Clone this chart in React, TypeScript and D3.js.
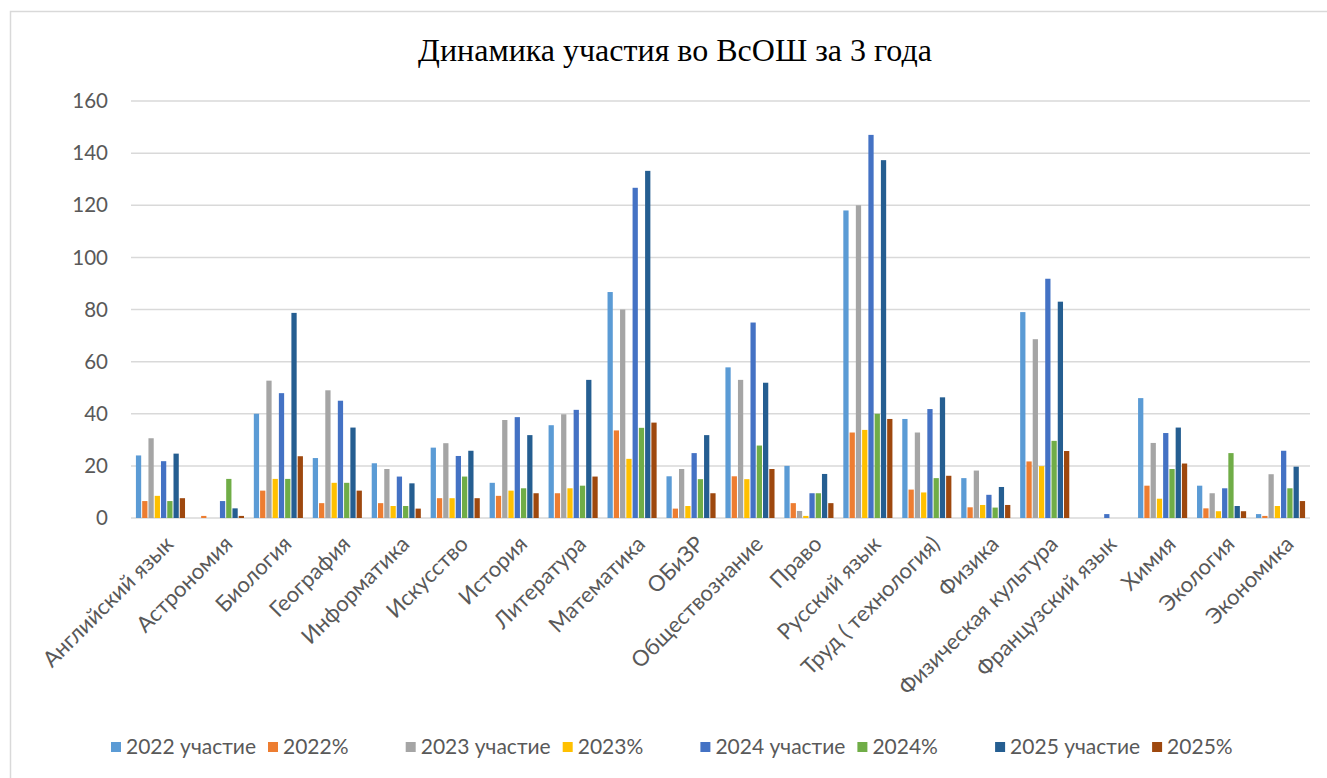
import { useEffect, useRef } from "react";
import { select, scaleBand, scaleLinear, range } from "d3";

const categories = [
  "Английский язык",
  "Астрономия",
  "Биология",
  "География",
  "Информатика",
  "Искусство",
  "История",
  "Литература",
  "Математика",
  "ОБиЗР",
  "Обществознание",
  "Право",
  "Русский язык",
  "Труд ( технология)",
  "Физика",
  "Физическая культура",
  "Французский язык",
  "Химия",
  "Экология",
  "Экономика",
];

const seriesNames = [
  "2022 участие",
  "2022%",
  "2023 участие",
  "2023%",
  "2024 участие",
  "2024%",
  "2025 участие",
  "2025%",
];

const seriesColors = [
  "#5B9BD5",
  "#ED7D31",
  "#A5A5A5",
  "#FFC000",
  "#4472C4",
  "#70AD47",
  "#255E91",
  "#9E480E",
];

const part2022 = [24, 0, 40, 23, 21, 27, 13.5, 35.6, 86.7, 16, 57.8, 20, 118, 38, 15.3, 79, 0, 46, 12.4, 1.5];
const pct2022 = [6.5, 0.8, 10.5, 5.7, 5.7, 7.6, 8.5, 9.5, 33.6, 3.6, 16, 5.7, 32.8, 10.9, 4.1, 21.7, 0, 12.4, 3.7, 0.8];
const part2023 = [30.6, 0, 52.7, 49, 18.8, 28.7, 37.6, 39.8, 80, 18.8, 53, 2.7, 120, 32.8, 18.2, 68.6, 0, 28.8, 9.5, 16.8];
const pct2023 = [8.5, 0, 15, 13.5, 4.6, 7.6, 10.5, 11.4, 22.7, 4.6, 14.9, 0.8, 33.8, 9.8, 5, 19.9, 0, 7.4, 2.6, 4.6];
const part2024 = [21.8, 6.5, 47.9, 45, 15.9, 23.8, 38.7, 41.5, 126.7, 24.9, 75, 9.5, 147, 41.8, 8.9, 91.8, 1.5, 32.6, 11.4, 25.8];
const pct2024 = [6.5, 15, 15, 13.5, 4.6, 15.9, 11.4, 12.4, 34.6, 14.9, 27.8, 9.5, 40, 15.3, 4, 29.6, 0, 18.8, 24.9, 11.4];
const part2025 = [24.7, 3.7, 78.7, 34.7, 13.3, 25.8, 31.8, 53, 133.2, 31.8, 51.9, 16.9, 137.3, 46.3, 11.9, 83, 0, 34.7, 4.6, 19.7];
const pct2025 = [7.6, 0.8, 23.7, 10.5, 3.6, 7.6, 9.5, 15.9, 36.6, 9.5, 18.8, 5.7, 38, 16.2, 5, 25.7, 0, 20.9, 2.6, 6.5];

const seriesValues = [part2022, pct2022, part2023, pct2023, part2024, pct2024, part2025, pct2025];

const yTicks = [0, 20, 40, 60, 80, 100, 120, 140, 160];

const W = 1327;
const H = 778;
const FONT = "Lato, 'Open Sans', sans-serif";
const TEXT_GRAY = "#595959";

export default function App() {
  const svgRef = useRef<SVGSVGElement | null>(null);

  useEffect(() => {
    if (!svgRef.current) return;
    const svg = select(svgRef.current);
    svg.selectAll("*").remove();

    const left = 131;
    const right = 1310;
    const top = 101;
    const bottom = 518;

    const x = scaleBand<string>().domain(categories).range([left, right]).paddingInner(0.15).paddingOuter(0.075);
    const xs = scaleBand<number>().domain(range(seriesNames.length)).range([0, x.bandwidth()]);
    const y = scaleLinear().domain([0, 160]).range([bottom, top]);

    // background + border
    svg.append("rect").attr("x", 0).attr("y", 0).attr("width", W).attr("height", H).attr("fill", "#fff");
    svg
      .append("rect")
      .attr("x", 10.5)
      .attr("y", 11.5)
      .attr("width", W + 20)
      .attr("height", H + 20)
      .attr("fill", "none")
      .attr("stroke", "#d9d9d9")
      .attr("stroke-width", 1.5);

    // title
    svg
      .append("text")
      .attr("x", 675)
      .attr("y", 61)
      .attr("text-anchor", "middle")
      .attr("font-family", "'Liberation Serif', 'Times New Roman', serif")
      .attr("font-size", 32)
      .attr("fill", "#000")
      .text("Динамика участия во ВсОШ за 3 года");

    // grid
    const grid = svg.append("g").attr("class", "grid");
    grid
      .selectAll("line")
      .data(yTicks)
      .enter()
      .append("line")
      .attr("x1", left)
      .attr("x2", right)
      .attr("y1", (d) => y(d))
      .attr("y2", (d) => y(d))
      .attr("stroke", "#d9d9d9")
      .attr("stroke-width", 1.5);

    // y labels
    svg
      .append("g")
      .selectAll("text")
      .data(yTicks)
      .enter()
      .append("text")
      .attr("x", 108)
      .attr("y", (d) => y(d))
      .attr("dy", "0.35em")
      .attr("text-anchor", "end")
      .attr("font-family", FONT)
      .attr("font-size", 20.5)
      .attr("fill", TEXT_GRAY)
      .text((d) => String(d));

    // bars
    const groups = svg
      .append("g")
      .selectAll("g")
      .data(categories)
      .enter()
      .append("g")
      .attr("transform", (d) => `translate(${x(d)},0)`);

    groups
      .selectAll("rect")
      .data((_, ci) => seriesValues.map((vals, si) => ({ si, v: vals[ci] })))
      .enter()
      .filter((d) => d.v > 0)
      .append("rect")
      .attr("x", (d) => (xs(d.si) ?? 0) + 0.5)
      .attr("width", xs.bandwidth() - 1)
      .attr("y", (d) => y(d.v))
      .attr("height", (d) => y(0) - y(d.v))
      .attr("fill", (d) => seriesColors[d.si]);

    // category labels
    svg
      .append("g")
      .selectAll("text")
      .data(categories)
      .enter()
      .append("text")
      .attr("transform", (d) => `translate(${(x(d) ?? 0) + x.bandwidth() / 2 + 9},${bottom + 22}) rotate(-45)`)
      .attr("text-anchor", "end")
      .attr("dy", "0.35em")
      .attr("font-family", FONT)
      .attr("font-size", 22)
      .attr("fill", TEXT_GRAY)
      .text((d) => d);

    // legend: entries laid out in pairs (участие + %)
    const legendLeft = 111;
    const pairWidth = 294.7;
    const pctOffset = 157;
    const items = svg
      .append("g")
      .selectAll("g")
      .data(seriesNames)
      .enter()
      .append("g")
      .attr(
        "transform",
        (_, i) => `translate(${legendLeft + Math.floor(i / 2) * pairWidth + (i % 2) * pctOffset},747)`
      );
    items
      .append("rect")
      .attr("width", 10)
      .attr("height", 10)
      .attr("y", -5)
      .attr("fill", (_, i) => seriesColors[i]);
    items
      .append("text")
      .attr("x", 15)
      .attr("dy", "0.35em")
      .attr("font-family", FONT)
      .attr("font-size", 21)
      .attr("fill", TEXT_GRAY)
      .text((d) => d);
  }, []);

  return (
    <div style={{ position: "absolute", left: 0, top: 0 }}>
      <svg ref={svgRef} width={W} height={H} style={{ display: "block" }} />
    </div>
  );
}
